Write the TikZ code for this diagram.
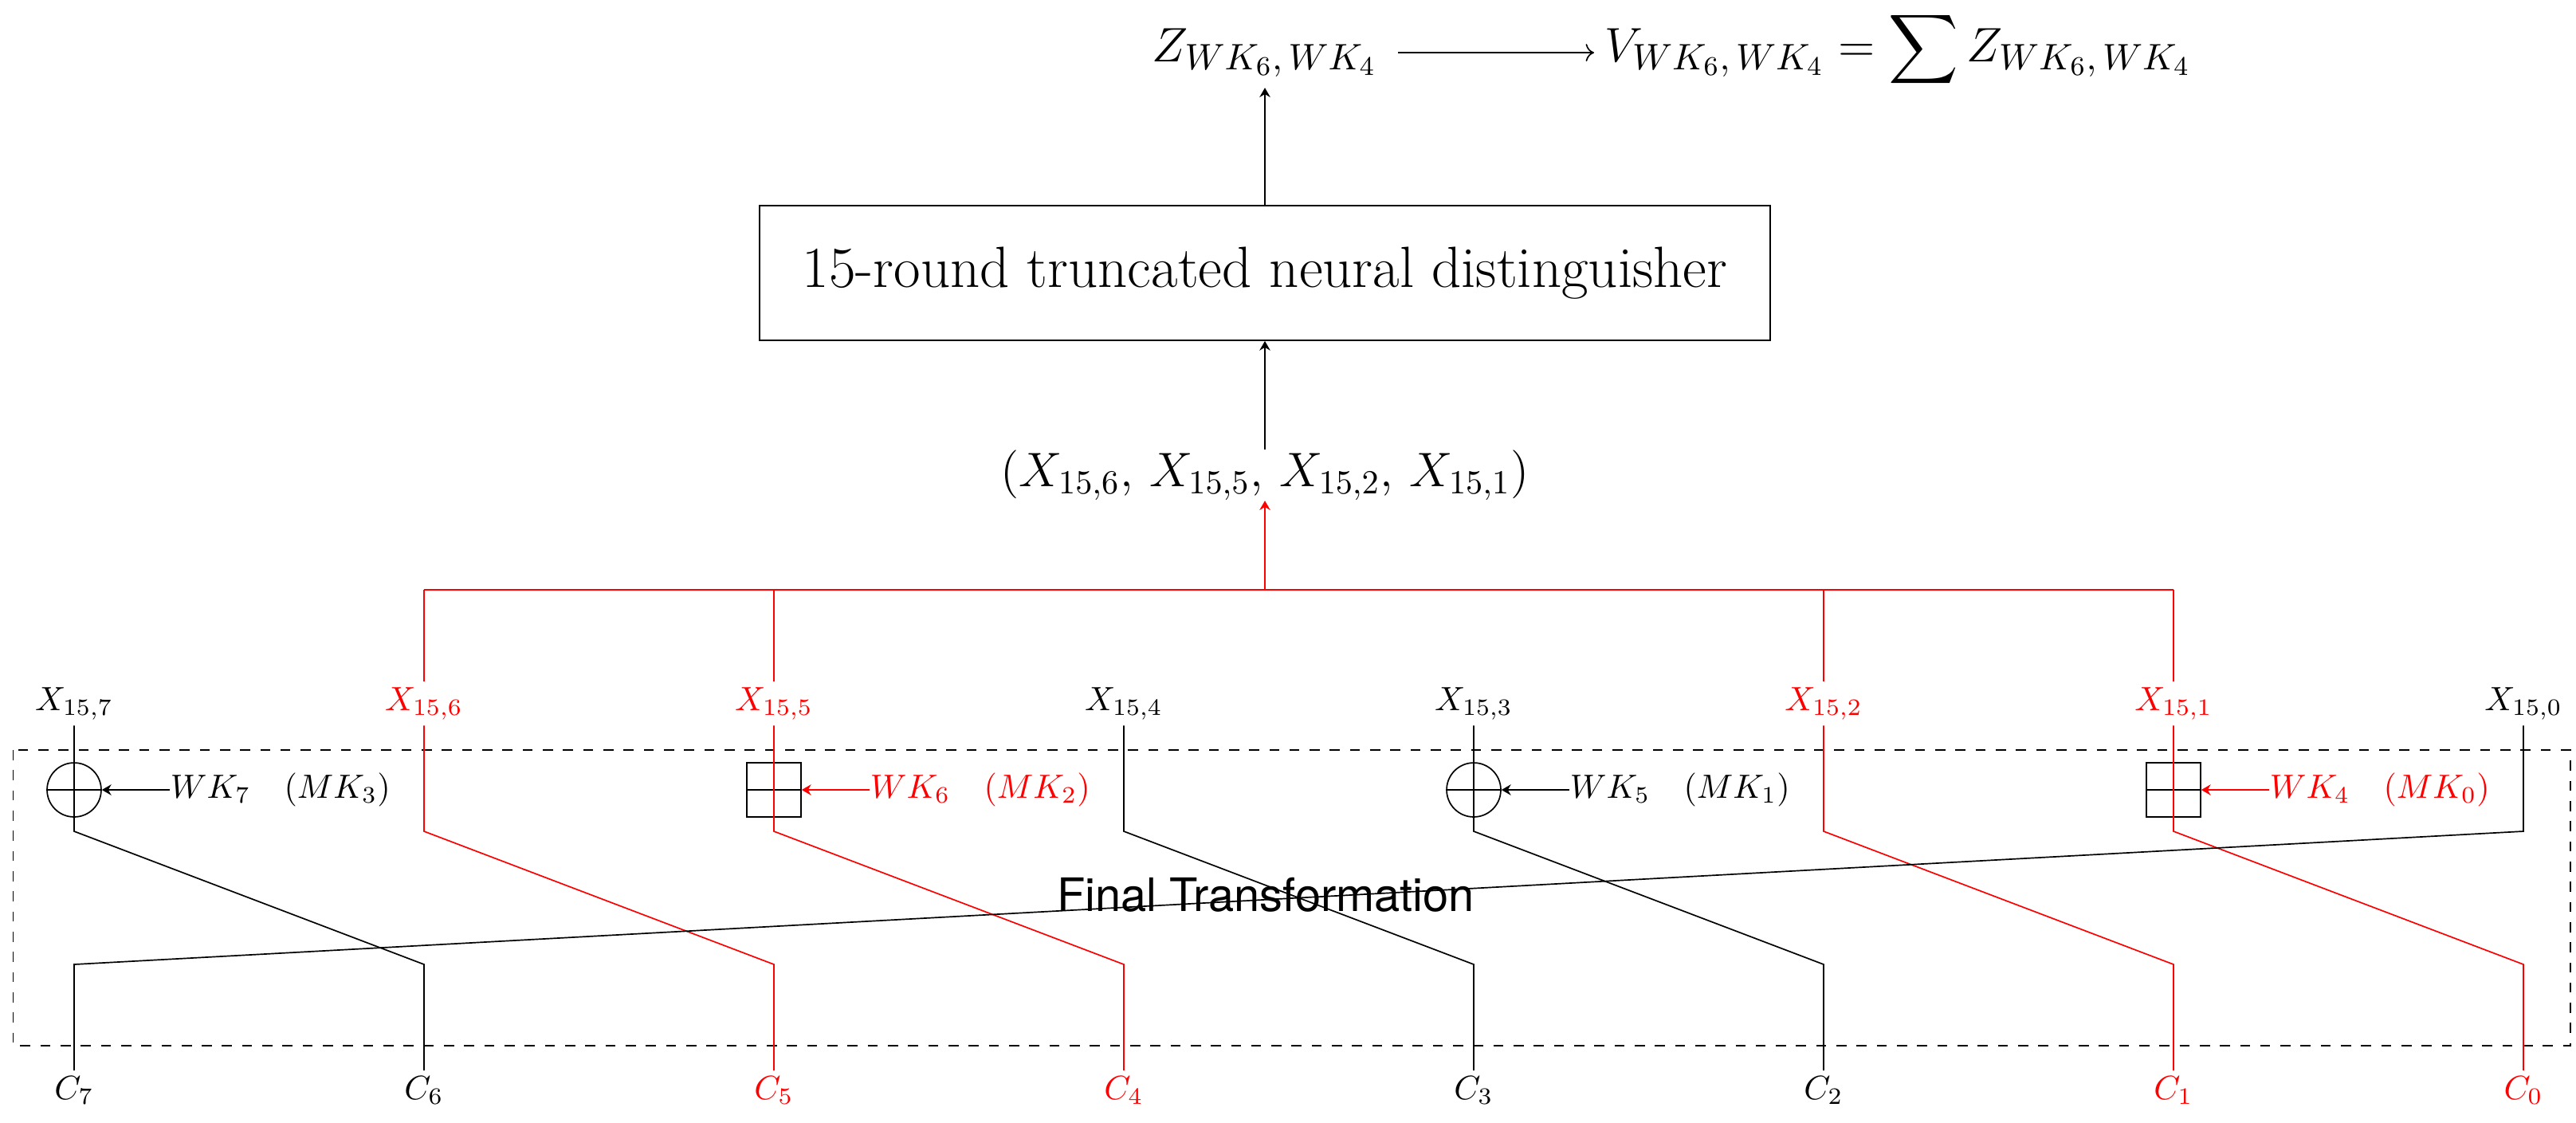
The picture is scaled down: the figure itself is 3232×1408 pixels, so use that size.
\documentclass[tikz,border=0pt]{standalone}
\usepackage{amsmath}
\usepackage{fontspec}
\newfontfamily\ftfont{TeX Gyre Heros}
\usetikzlibrary{arrows.meta,calc}
\begin{document}
\begin{tikzpicture}[x=0.23697pt,y=-0.23697pt,
  line width=0.4pt,
  lbl/.style={inner sep=1.5pt, anchor=base},
  toplbl/.style={inner xsep=3pt, inner ysep=0pt, font=\fontsize{15.8}{19}\selectfont},
  xorop/.style={draw, circle, minimum size=16.1pt, inner sep=0pt},
  addop/.style={draw, rectangle, minimum size=16.1pt, inner sep=0pt},
  keylbl/.style={anchor=west, inner sep=0pt},
  arr/.style={-{Stealth[length=2.8pt,width=3.2pt]}}
]
\useasboundingbox (0,0) rectangle (3232,1408);

% ---- top part
\node[toplbl, anchor=base] (z) at (1587,77) {$Z_{WK_6,\,WK_4}$};
\node[toplbl, anchor=base west] (v) at (2000,77) {$V_{WK_6,\,WK_4}=\displaystyle\sum Z_{WK_6,\,WK_4}$};
\node[draw, minimum width=300.5pt, minimum height=40.05pt, font=\LARGE] (nd) at (1587,342.5) {15-round truncated neural distinguisher};
\node[anchor=base, inner sep=0pt, font=\Large] (tup) at (1587,610) {$(X_{15,6},\,X_{15,5},\,X_{15,2},\,X_{15,1})$};
\coordinate (j) at (1587,740);

\draw[->] ([xshift=3pt]z.east) -- (z.east -| v.west);
\draw[arr, shorten >=3pt] (nd) -- (z);
\draw[arr] (tup) -- (nd);

% ---- round inputs
\node[lbl] (x7) at (93,891) {$X_{15,7}$};
\node[lbl,red] (x6) at (532,891) {$X_{15,6}$};
\node[lbl,red] (x5) at (971,891) {$X_{15,5}$};
\node[lbl] (x4) at (1410,891) {$X_{15,4}$};
\node[lbl] (x3) at (1849,891) {$X_{15,3}$};
\node[lbl,red] (x2) at (2288,891) {$X_{15,2}$};
\node[lbl,red] (x1) at (2727,891) {$X_{15,1}$};
\node[lbl] (x0) at (3166,891) {$X_{15,0}$};

% ---- ciphertext outputs
\node[lbl] (c7) at (93,1379) {$C_7$};
\node[lbl] (c6) at (532,1379) {$C_6$};
\node[lbl,red] (c5) at (971,1379) {$C_5$};
\node[lbl,red] (c4) at (1410,1379) {$C_4$};
\node[lbl] (c3) at (1849,1379) {$C_3$};
\node[lbl] (c2) at (2288,1379) {$C_2$};
\node[lbl,red] (c1) at (2727,1379) {$C_1$};
\node[lbl,red] (c0) at (3166,1379) {$C_0$};

% ---- red selection
\draw[red] (x6|-j) -- (x1|-j);
\draw[red] (x6|-j) -- (x6);
\draw[red] (x5|-j) -- (x5);
\draw[red] (x2|-j) -- (x2);
\draw[red] (x1|-j) -- (x1);
\draw[red,arr] (j) -- (tup);

% ---- final transformation
\draw[dashed] (16.5,941) rectangle (3225,1312);
\node[font=\ftfont\fontsize{13.7}{16}\selectfont] (ft) at (1588,1123) {Final Transformation};

\node[xorop] (o7) at (93,991) {};
\node[addop] (o6) at (971,991) {};
\node[xorop] (o5) at (1849,991) {};
\node[addop] (o4) at (2727,991) {};
\draw (o7.west) -- (o7.east);
\draw (o6.west) -- (o6.east);
\draw (o5.west) -- (o5.east);
\draw (o4.west) -- (o4.east);

\node[keylbl] (k7) at (213,991) {$WK_7\quad(MK_3)$};
\node[keylbl,red] (k6) at (1091,991) {$WK_6\quad(MK_2)$};
\node[keylbl] (k5) at (1969,991) {$WK_5\quad(MK_1)$};
\node[keylbl,red] (k4) at (2847,991) {$WK_4\quad(MK_0)$};
\draw[arr] (k7) -- (o7);
\draw[arr,red] (k6) -- (o6);
\draw[arr] (k5) -- (o5);
\draw[arr,red] (k4) -- (o4);

\foreach \n/\xx in {7/93,6/532,5/971,4/1410,3/1849,2/2288,1/2727,0/3166}{
  \coordinate (t\n) at (\xx,1043);
  \coordinate (b\n) at (\xx,1210);
}

\draw (x7) -- (t7) -- (b6) -- (c6);
\draw[red] (x6) -- (t6) -- (b5) -- (c5);
\draw[red] (x5) -- (t5) -- (b4) -- (c4);
\draw (x4) -- (t4) -- (b3) -- (c3);
\draw (x3) -- (t3) -- (b2) -- (c2);
\draw[red] (x2) -- (t2) -- (b1) -- (c1);
\draw[red] (x1) -- (t1) -- (b0) -- (c0);
\draw (x0) -- (t0) -- (b7) -- (c7);
\end{tikzpicture}
\end{document}
